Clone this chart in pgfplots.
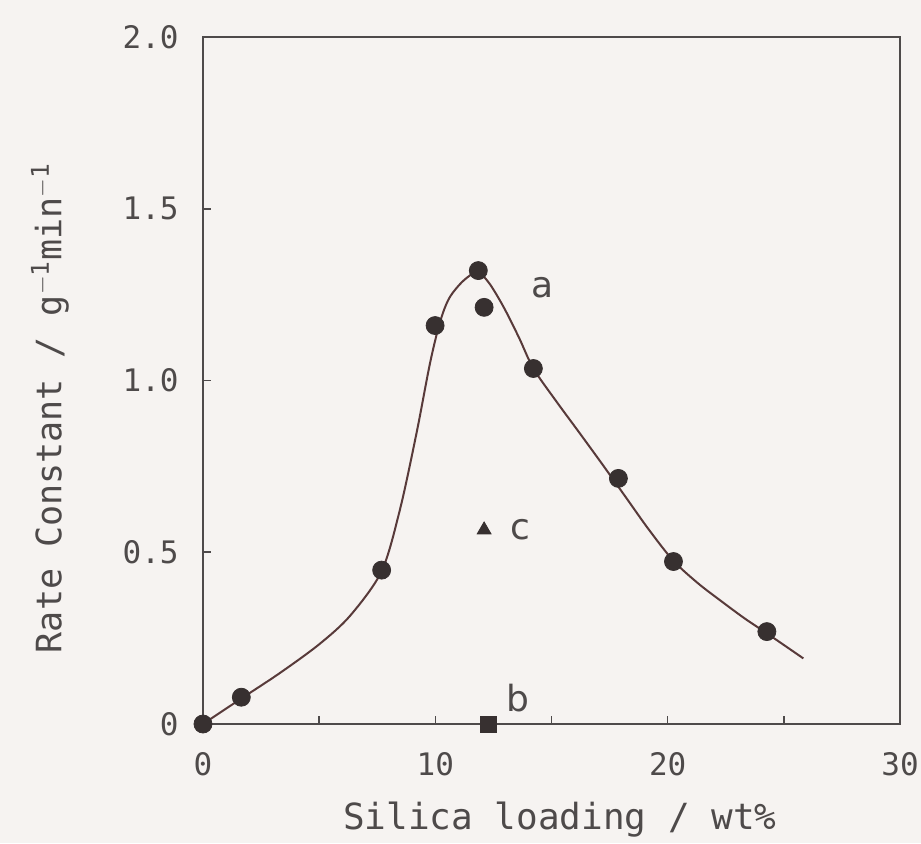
\documentclass[border=0pt]{standalone}
\usepackage{pgfplots}
\pgfplotsset{compat=1.18}
\usepackage{fontspec}
\setmonofont{DejaVu Sans Mono}
\setsansfont{DejaVu Sans}
\usetikzlibrary{backgrounds}
\definecolor{bg}{RGB}{246,243,241}
\definecolor{ink}{RGB}{78,74,74}
\definecolor{dots}{RGB}{55,48,48}
\definecolor{curve}{RGB}{88,58,58}
\begin{document}
\begin{tikzpicture}
\begin{axis}[name=ax, scale only axis, width=348.5pt, height=343.5pt,
  xmin=0, xmax=30, ymin=0, ymax=2, clip=false,
  axis line style={ink, line width=0.9pt},
  xtick={0,10,20,30}, xticklabels={0,10,20,30},
  minor xtick={5,15,25},
  ytick={0,0.5,1,1.5,2}, yticklabels={0,0.5,1.0,1.5,2.0},
  xtick pos=bottom, ytick pos=left, tick align=inside,
  major tick length=4pt, minor tick length=4pt,
  tick style={ink, line width=0.8pt},
  xticklabel style={font=\ttfamily\fontsize{15.5}{18}\selectfont, text=ink, anchor=north, inner sep=0pt, yshift=-14pt},
  yticklabel style={font=\ttfamily\fontsize{15.5}{18}\selectfont, text=ink, anchor=east, inner sep=0pt, xshift=-12pt},
  xlabel={Silica loading / wt\%},
  ylabel={Rate Constant / g$^{\mathtt{-1}}$min$^{\mathtt{-1}}$},
  xlabel style={font=\ttfamily\fontsize{18}{20}\selectfont, text=ink, at={(axis description cs:0.512,-0.1397)}, anchor=center},
  ylabel style={font=\ttfamily\fontsize{17.5}{20}\selectfont, text=ink, at={(axis description cs:-0.2195,0.46)}, anchor=center},
]
\addplot[curve, line width=1pt, smooth, tension=0.5] coordinates {
(0,0) (1.6,0.072) (3.3,0.148) (5,0.232) (6.33,0.315) (7.69,0.445) (8.48,0.625) (9.2,0.85) (9.77,1.05) (10.2,1.17) (10.6,1.24) (11.2,1.29) (11.8,1.315) (12.3,1.285) (12.93,1.215) (13.6,1.125) (14.22,1.035) (15.2,0.94) (16.2,0.848) (17.2,0.755) (18.2,0.66) (19.2,0.565) (20.25,0.475) (21.3,0.41) (22.26,0.36) (23.3,0.308) (24.27,0.264) (25.84,0.191)
};
\addplot[only marks, mark=*, mark size=4.5pt, mark options={fill=dots, draw=dots}] coordinates {
(0,0) (1.65,0.078) (7.69,0.448) (9.99,1.16) (11.85,1.32) (12.1,1.213) (14.22,1.035) (17.88,0.715) (20.25,0.473) (24.27,0.269)
};
\addplot[only marks, mark=square*, mark size=4pt, mark options={fill=dots, draw=dots}] coordinates {(12.3,0)};
\addplot[only marks, mark=triangle*, mark size=4pt, mark options={fill=dots, draw=dots}] coordinates {(12.1,0.565)};
\node[font=\sffamily\fontsize{18}{20}\selectfont, text=ink] at (axis cs:14.6,1.27) {a};
\node[font=\sffamily\fontsize{18}{20}\selectfont, text=ink] at (axis cs:13.56,0.075) {b};
\node[font=\sffamily\fontsize{18}{20}\selectfont, text=ink] at (axis cs:13.65,0.565) {c};
\end{axis}
\pgfresetboundingbox
\begin{scope}[on background layer]
\fill[bg] ([xshift=-101.5pt,yshift=-59.5pt]ax.south west) rectangle ([xshift=10.5pt,yshift=18.5pt]ax.north east);
\end{scope}
\end{tikzpicture}
\end{document}
